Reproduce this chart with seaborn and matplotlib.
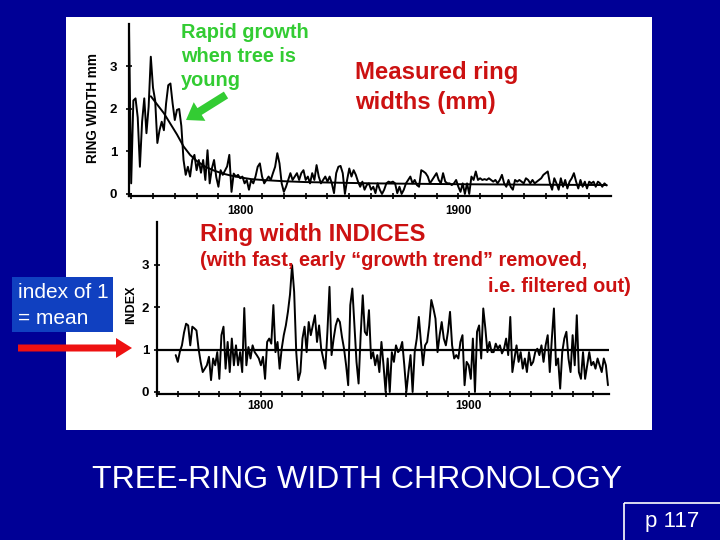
import numpy as np
import pandas as pd
import matplotlib
matplotlib.use("Agg")
import matplotlib.pyplot as plt
import seaborn as sns
from matplotlib.patches import Rectangle, FancyArrow

sns.set_theme(style="ticks")
plt.rcParams['font.family'] = ['Liberation Sans', 'DejaVu Sans']

# ---------------- data ----------------
ring_start_year = 1749
ring_width_mm = [
    3.9, 0.25, 2.2, 2.25, 1.8, 0.64, 1.7, 2.25, 1.43, 2.05,      # 1749-1758
    3.23, 2.5, 2.2, 1.2, 1.5, 1.7, 1.5, 2.13, 2.56, 2.6,         # 1759-1768
    2.13, 1.74, 1.98, 2.0, 1.6, 0.8, 0.45, 0.64, 0.41, 0.8,      # 1769-1778
    0.92, 0.56, 0.8, 0.5, 0.8, 0.33, 1.03, 0.25, 0.6, 0.8,       # 1779-1788
    0.4, 0.17, 0.56, 0.45, 0.55, 0.65, 0.92, 0.05, 0.48, 0.41,   # 1789-1798
    0.45, 0.37, 0.41, 0.25, 0.33, 0.1, 0.33, 0.25, 0.41, 0.64,   # 1799-1808
    0.72, 0.41, 0.25, 0.33, 0.41, 0.33, 0.49, 0.64, 0.96, 0.72,  # 1809-1818
    0.25, 0.05, 0.17, 0.33, 0.49, 0.33, 0.41, 0.49, 0.33, 0.49,  # 1819-1828
    0.56, 0.33, 0.41, 0.25, 0.49, 0.33, 0.68, 0.41, 0.25, 0.33,  # 1829-1838
    0.41, 0.29, 0.41, 0.25, 0.02, 0.49, 0.64, 0.66, 0.49, 0.0,   # 1839-1848
    0.33, 0.6, 0.41, 0.56, 0.45, 0.29, 0.17, 0.29, 0.1, 0.21,    # 1849-1858
    0.25, 0.1, 0.17, 0.02, 0.25, 0.1, 0.0, 0.1, 0.25, 0.29,      # 1859-1868
    0.27, 0.29, 0.25, 0.02, 0.17, 0.0, 0.1, 0.25, 0.33, 0.41,    # 1869-1878
    0.25, 0.33, 0.21, 0.17, 0.56, 0.53, 0.49, 0.41, 0.25, 0.33,  # 1879-1888
    0.41, 0.49, 0.33, 0.25, 0.49, 0.29, 0.25, 0.25, 0.21, 0.25,  # 1889-1898
    0.33, 0.17, 0.05, 0.25, 0.0, 0.25, 0.0, 0.41, 0.33, 0.53,    # 1899-1908
    0.33, 0.37, 0.33, 0.35, 0.33, 0.37, 0.33, 0.29, 0.33, 0.25,  # 1909-1918
    0.33, 0.45, 0.25, 0.17, 0.33, 0.17, 0.1, 0.33, 0.29, 0.33,   # 1919-1928
    0.29, 0.25, 0.37, 0.33, 0.25, 0.33, 0.25, 0.29, 0.33, 0.37,  # 1929-1938
    0.45, 0.49, 0.53, 0.25, 0.1, 0.37, 0.25, 0.1, 0.37, 0.17,    # 1939-1948
    0.33, 0.13, 0.29, 0.37, 0.49, 0.29, 0.13, 0.33, 0.17, 0.29,  # 1949-1958
    0.13, 0.29, 0.25, 0.29, 0.17, 0.29, 0.25, 0.17, 0.25, 0.2,   # 1959-1968
]
trend_years = [1759, 1762, 1765, 1768, 1771, 1774, 1777, 1780, 1784, 1788,
               1792, 1796, 1800, 1805, 1810, 1820, 1830, 1840, 1860, 1880,
               1900, 1930, 1968]
trend_mm = [2.3, 2.1, 1.9, 1.65, 1.4, 1.12, 0.92, 0.78, 0.64, 0.55,
            0.48, 0.43, 0.39, 0.35, 0.33, 0.30, 0.28, 0.27, 0.25, 0.24,
            0.23, 0.22, 0.21]

index_start_year = 1759
ring_index = [
    0.87, 0.71, 0.95, 1.10, 1.40, 1.61, 1.57, 1.10, 1.54, 1.50,  # 1759-1768
    1.45, 1.02, 0.71, 0.47, 0.55, 0.63, 0.83, 0.28, 0.79, 0.63,  # 1769-1778
    0.94, 0.31, 1.34, 1.54, 0.55, 1.18, 0.47, 1.26, 0.63, 1.10,  # 1779-1788
    0.63, 0.94, 0.47, 1.98, 0.63, 1.06, 0.79, 1.10, 0.94, 0.87,  # 1789-1798
    0.79, 0.63, 0.83, 0.31, 1.18, 1.26, 1.14, 2.05, 0.94, 1.18,  # 1799-1808
    0.55, 1.02, 1.34, 1.57, 1.89, 2.30, 2.99, 2.36, 0.94, 0.28,  # 1809-1818
    0.47, 1.26, 1.54, 0.94, 1.65, 1.34, 1.57, 1.81, 1.18, 1.57,  # 1819-1828
    1.02, 0.79, 0.55, 1.42, 2.48, 0.87, 1.26, 1.57, 1.73, 1.65,  # 1829-1838
    1.30, 1.02, 0.63, 0.16, 2.05, 2.44, 1.57, 0.71, 0.20, 1.34,  # 1839-1848
    2.28, 1.42, 1.34, 1.93, 0.79, 0.94, 0.63, 0.87, 0.47, 1.18,  # 1849-1858
    0.63, 0.00, 0.79, 0.00, 0.94, 0.71, 1.10, 0.94, 1.00, 1.18,  # 1859-1868
    0.63, 0.00, 0.47, 0.87, 0.00, 0.94, 1.26, 1.77, 1.18, 0.63,  # 1869-1878
    1.10, 1.18, 1.57, 2.17, 1.97, 1.73, 0.94, 1.34, 1.65, 1.26,  # 1879-1888
    1.10, 1.42, 1.89, 1.10, 0.79, 0.87, 0.79, 1.18, 1.34, 0.16,  # 1889-1898
    0.71, 0.63, 0.31, 1.26, 0.00, 1.42, 1.57, 0.79, 1.97, 1.50,  # 1899-1908
    0.94, 1.18, 0.94, 0.94, 1.14, 1.02, 1.10, 0.91, 1.02, 1.26,  # 1909-1918
    0.87, 1.77, 0.47, 0.79, 1.10, 0.71, 0.94, 0.55, 0.79, 0.47,  # 1919-1928
    0.94, 0.63, 0.71, 0.94, 1.02, 0.87, 1.10, 0.71, 1.10, 1.34,  # 1929-1938
    0.47, 1.26, 1.97, 0.63, 0.79, 0.08, 0.94, 1.26, 1.42, 0.79,  # 1939-1948
    0.47, 1.34, 0.63, 1.81, 0.47, 0.31, 0.94, 0.31, 0.63, 0.94,  # 1949-1958
    0.63, 0.71, 0.55, 0.79, 0.63, 0.47, 0.79, 0.63, 0.16,        # 1959-1967
]
mean_index = 1.0
year_labels = [1800, 1900]
value_ticks = [0, 1, 2, 3]

# ---------------- layout ----------------
W, H = 720, 540
NAVY = '#000096'
RED = '#CC1111'
GREEN = '#33CC33'

fig = plt.figure(figsize=(7.2, 5.4), dpi=100)
fig.patch.set_facecolor(NAVY)


def px_rect(left, top, right, bottom):
    return [left / W, 1 - bottom / H, (right - left) / W, (bottom - top) / H]


bg = fig.add_axes([0, 0, 1, 1], zorder=0)
bg.set_xlim(0, W)
bg.set_ylim(H, 0)
bg.axis('off')
bg.add_patch(Rectangle((66, 17), 586, 413, color='white', lw=0))

df_raw = pd.DataFrame({'year': np.arange(ring_start_year, ring_start_year + len(ring_width_mm)),
                       'width': ring_width_mm})
df_trend = pd.DataFrame({'year': trend_years, 'width': trend_mm})
df_idx = pd.DataFrame({'year': np.arange(index_start_year, index_start_year + len(ring_index)),
                       'index': ring_index})


def style_axis(ax, xpad, ypad):
    ax.set_facecolor('none')
    sns.despine(ax=ax)
    for s in ('left', 'bottom'):
        ax.spines[s].set_linewidth(1.6)
        ax.spines[s].set_color('black')
    ax.set_xticks(year_labels)
    ax.set_xticklabels([str(y) for y in year_labels])
    ax.set_xticks(list(range(1750, 1970, 10)), minor=True)
    ax.set_yticks(value_ticks)
    ax.set_yticklabels([str(v) for v in value_ticks])
    ax.tick_params(axis='x', which='both', direction='inout', length=5, width=1.2,
                   colors='black', pad=xpad, labelsize=8.5)
    ax.tick_params(axis='y', which='both', direction='inout', length=5, width=1.2,
                   colors='black', pad=ypad, labelsize=9.5)
    for lab in ax.get_xticklabels() + ax.get_yticklabels():
        lab.set_fontweight('bold')
    ax.set_xlabel('')
    ax.set_ylabel('')
    ax.grid(False)


# top chart: measured ring widths
ax1 = fig.add_axes(px_rect(129, 24, 611, 196.1), zorder=1)
sns.lineplot(data=df_raw, x='year', y='width', ax=ax1, color='black', lw=1.4)
sns.lineplot(data=df_trend, x='year', y='width', ax=ax1, color='black', lw=1.4)
ax1.set_xlim(1749, 1970)
ax1.set_ylim(-0.05, 4.0)
style_axis(ax1, xpad=4, ypad=6)

# bottom chart: ring width indices
ax2 = fig.add_axes(px_rect(157, 222.4, 609, 394.1), zorder=1)
sns.lineplot(data=df_idx, x='year', y='index', ax=ax2, color='black', lw=1.4)
ax2.axhline(mean_index, color='black', lw=1.6)
ax2.set_xlim(1758.3, 1967.5)
ax2.set_ylim(-0.05, 4.0)
style_axis(ax2, xpad=2, ypad=3)

# foreground overlay (pixel coordinates)
fg = fig.add_axes([0, 0, 1, 1], zorder=3)
fg.set_xlim(0, W)
fg.set_ylim(H, 0)
fg.axis('off')
fg.patch.set_alpha(0)

fg.text(93, 108, 'RING WIDTH mm', rotation=90, ha='center', va='center',
        fontsize=9.8, fontweight='bold', color='black')
fg.text(131, 305, 'INDEX', rotation=90, ha='center', va='center',
        fontsize=9, fontweight='bold', color='black')

for txt, yc in [('Rapid growth', 33), ('when tree is', 57), ('young', 80)]:
    fg.text(181, yc, txt, ha='left', va='center', fontsize=14.4, fontweight='bold', color=GREEN)
fg.add_patch(FancyArrow(226, 95, -40, 25, width=8, head_width=22, head_length=16,
                        length_includes_head=True, color=GREEN, lw=0))

fg.text(355, 73, 'Measured ring', ha='left', va='center', fontsize=17.2, fontweight='bold', color=RED)
fg.text(355, 103, 'widths (mm)', ha='left', va='center', fontsize=17.2, fontweight='bold', color=RED)

fg.text(200, 235, 'Ring width INDICES', ha='left', va='center', fontsize=17.2, fontweight='bold', color=RED)
fg.text(200, 261, '(with fast, early \u201cgrowth trend\u201d removed,', ha='left', va='center',
        fontsize=14.4, fontweight='bold', color=RED)
fg.text(631, 286, 'i.e. filtered out)', ha='right', va='center',
        fontsize=14.4, fontweight='bold', color=RED)

fg.add_patch(Rectangle((12, 277), 101, 55, color='#1040C0', lw=0))
fg.text(18, 293, 'index of 1', ha='left', va='center', fontsize=15, color='white')
fg.text(18, 318, '= mean', ha='left', va='center', fontsize=15, color='white')
fg.add_patch(FancyArrow(18, 348, 114, 0, width=7, head_width=20, head_length=16,
                        length_includes_head=True, color='#EE1111', lw=0))

fg.text(357, 480, 'TREE-RING WIDTH CHRONOLOGY', ha='center', va='center',
        fontsize=23, color='white')
fg.add_patch(Rectangle((624, 503), 110, 50, fill=False, edgecolor='white', lw=1.2))
fg.text(672, 521, 'p 117', ha='center', va='center', fontsize=16, color='white')

fig.savefig('out.png', dpi=100, facecolor=fig.get_facecolor())
